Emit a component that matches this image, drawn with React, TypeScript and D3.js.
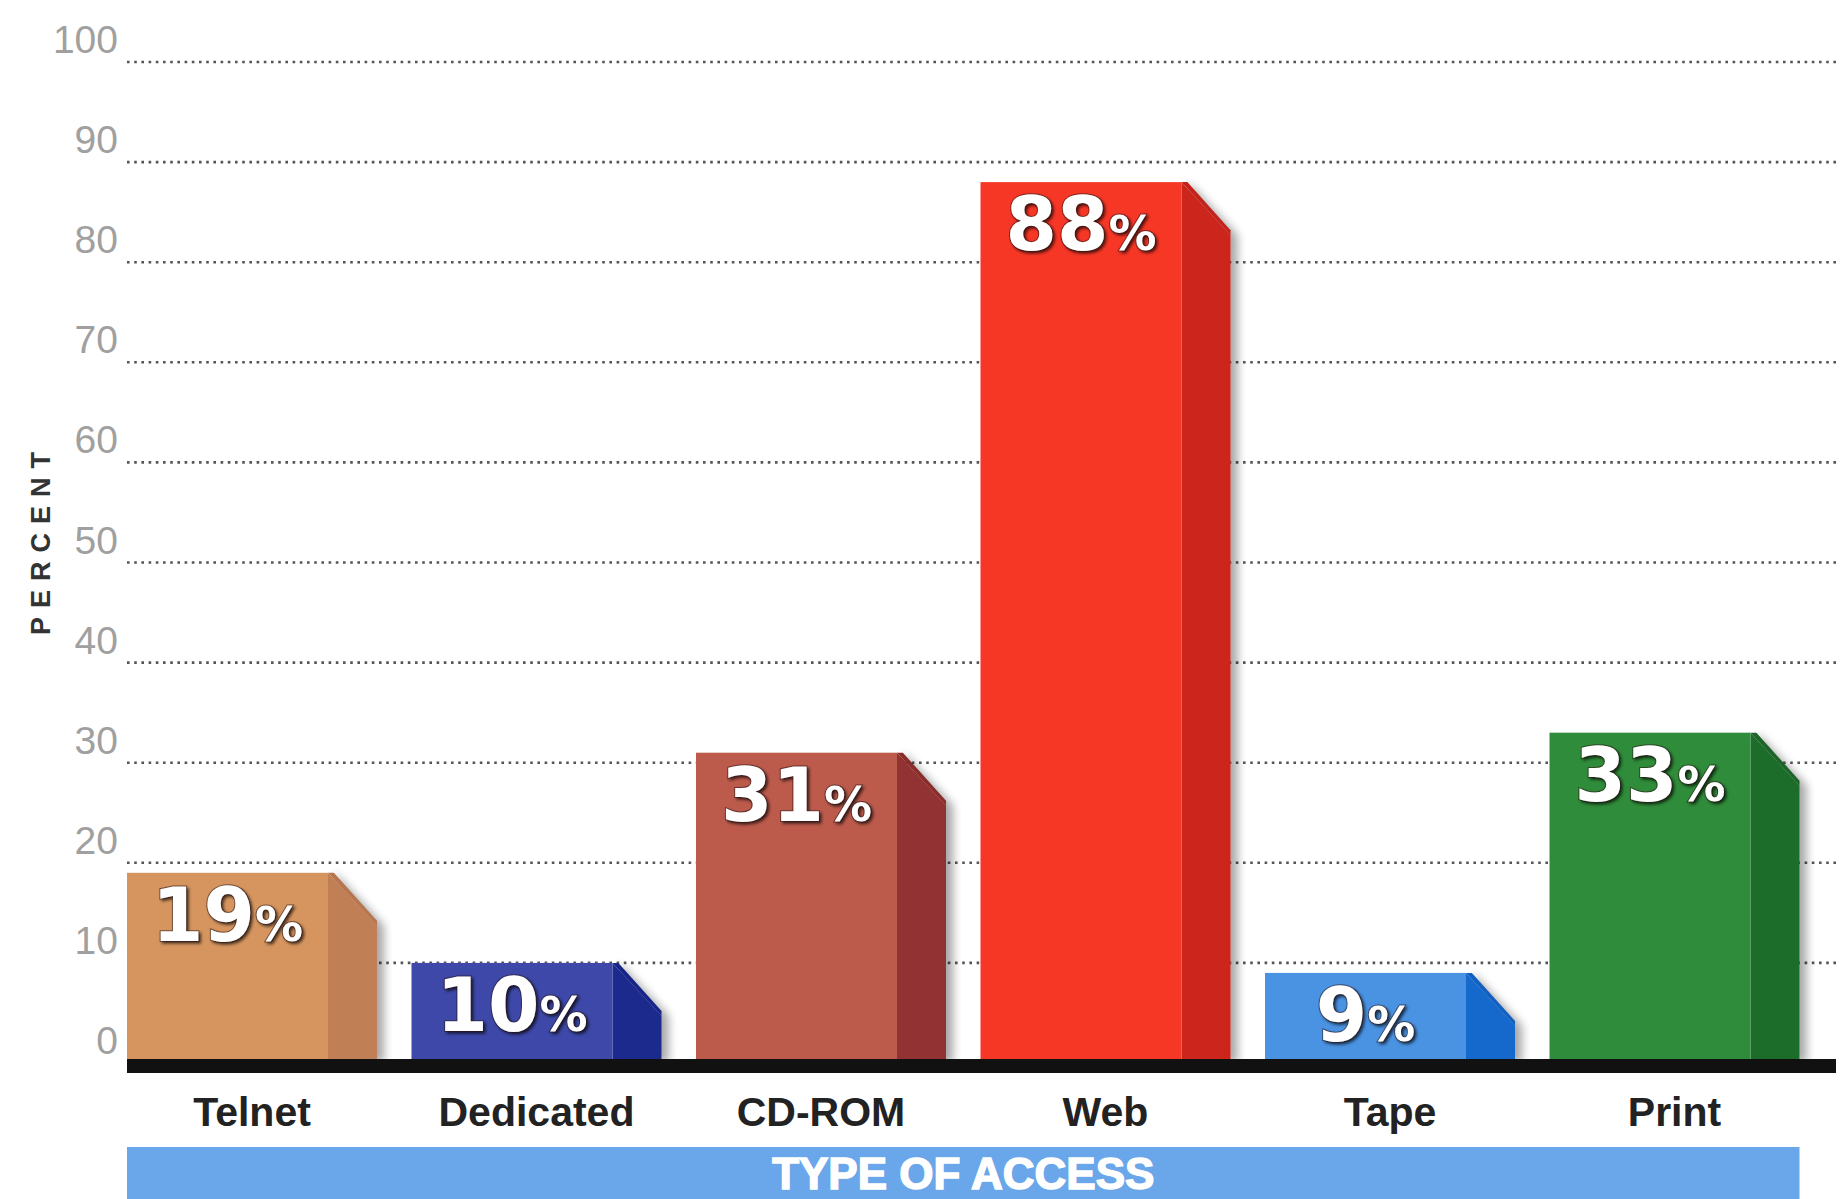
import React from "react";
import * as d3 from "d3";

const categories = ["Telnet", "Dedicated", "CD-ROM", "Web", "Tape", "Print"];
const values = [19, 10, 31, 88, 9, 33];
const frontColors = ["#d6955f", "#3d48a8", "#bc5a4c", "#f73726", "#4a92e2", "#2f8c3a"];
const sideColors = ["#c17f57", "#1c2a8e", "#923230", "#cc271f", "#1469cc", "#1f6d2a"];
const bevelColors = ["#b8764f", "#182588", "#8a2c2a", "#c2241c", "#1260c0", "#1c6427"];
const yTicks = [0, 10, 20, 30, 40, 50, 60, 70, 80, 90, 100];
const xTitle = "TYPE OF ACCESS";
const yTitle = "PERCENT";

const W = 1845;
const H = 1199;

export default function App() {
  const x = d3
    .scaleBand<string>()
    .domain(categories)
    .range([127, 1799.5])
    .paddingInner(0.1213)
    .paddingOuter(0);
  const y = d3.scaleLinear().domain([0, 100]).range([1063, 62]);
  const bw = x.bandwidth();
  const frontW = bw * 0.804;
  const sideW = bw - frontW;
  const drop = sideW * 1.08;
  const y0 = y(0);

  return (
    <svg
      width={W}
      height={H}
      viewBox={`0 0 ${W} ${H}`}
      style={{ position: "absolute", left: 0, top: 0, background: "#fff" }}
    >
      <defs>
        <filter id="shadow" x="-20%" y="-20%" width="150%" height="140%">
          <feGaussianBlur in="SourceAlpha" stdDeviation="5" />
          <feOffset dx="7" dy="0" result="off" />
          <feComponentTransfer>
            <feFuncA type="linear" slope="0.35" />
          </feComponentTransfer>
          <feMerge>
            <feMergeNode />
            <feMergeNode in="SourceGraphic" />
          </feMerge>
        </filter>
        <filter id="txtshadow" x="-20%" y="-20%" width="140%" height="140%">
          <feGaussianBlur in="SourceAlpha" stdDeviation="1.5" />
          <feOffset dx="1.5" dy="2" />
          <feComponentTransfer>
            <feFuncA type="linear" slope="0.7" />
          </feComponentTransfer>
          <feMerge>
            <feMergeNode />
            <feMergeNode in="SourceGraphic" />
          </feMerge>
        </filter>
      </defs>

      {/* gridlines */}
      {yTicks
        .filter((t) => t > 0)
        .map((t) => (
          <line
            key={"g" + t}
            x1={127}
            x2={1836}
            y1={y(t)}
            y2={y(t)}
            stroke="#555"
            strokeWidth={2.6}
            strokeDasharray="2.6 4.6"
          />
        ))}

      {/* tick labels */}
      {yTicks.map((t) => (
        <text
          key={"t" + t}
          x={118}
          y={y(t) - 9}
          textAnchor="end"
          fontFamily="'Liberation Sans', Arial, sans-serif"
          fontSize={39}
          fill="#a0a0a0"
        >
          {t}
        </text>
      ))}

      {/* y title */}
      <text
        transform={`translate(41,539) rotate(-90)`}
        textAnchor="middle"
        dominantBaseline="central"
        fontFamily="'Liberation Sans', Arial, sans-serif"
        fontWeight="bold"
        fontSize={27}
        letterSpacing={9}
        fill="#333"
      >
        {yTitle}
      </text>

      {/* bars */}
      {categories.map((c, i) => {
        const x0 = x(c) as number;
        const yt = y(values[i]);
        const xf = x0 + frontW;
        const xs = x0 + bw;
        return (
          <g key={"b" + c}>
            <g filter="url(#shadow)">
              <polygon
                points={`${xf},${yt} ${xs},${yt + drop} ${xs},${y0} ${xf},${y0}`}
                fill={sideColors[i]}
              />
            </g>
            <polygon
              points={`${xf},${yt} ${xf + sideW * 0.12},${yt} ${xs},${yt + drop - sideW * 0.1} ${xs},${yt + drop}`}
              fill={bevelColors[i]}
            />
            <rect x={x0} y={yt} width={frontW} height={y0 - yt} fill={frontColors[i]} />
            <text
              x={x0 + frontW / 2}
              y={yt + 68}
              textAnchor="middle"
              fontFamily="'DejaVu Sans', Verdana, sans-serif"
              fontWeight="bold"
              fill="#fff"
              stroke="rgba(40,20,20,0.55)"
              strokeWidth={2}
              paintOrder="stroke"
              filter="url(#txtshadow)"
            >
              <tspan fontSize={74}>{values[i]}</tspan>
              <tspan fontSize={48}>%</tspan>
            </text>
          </g>
        );
      })}

      {/* baseline */}
      <rect x={127} y={y0 - 4} width={1836 - 127} height={14} fill="#111" />

      {/* category labels */}
      {categories.map((c) => (
        <text
          key={"l" + c}
          x={(x(c) as number) + bw / 2}
          y={1126}
          textAnchor="middle"
          fontFamily="'Liberation Sans', Arial, sans-serif"
          fontWeight="bold"
          fontSize={41}
          fill="#222"
        >
          {c}
        </text>
      ))}

      {/* x title band */}
      <rect x={127} y={1147} width={1799.5 - 127} height={H - 1147} fill="#6aa6ea" />
      <text
        x={(127 + 1799.5) / 2}
        y={1189}
        textAnchor="middle"
        fontFamily="'Liberation Sans', Arial, sans-serif"
        fontWeight="bold"
        fontSize={44}
        fill="#fff"
        stroke="#fff"
        strokeWidth={1.5}
      >
        {xTitle}
      </text>
    </svg>
  );
}
